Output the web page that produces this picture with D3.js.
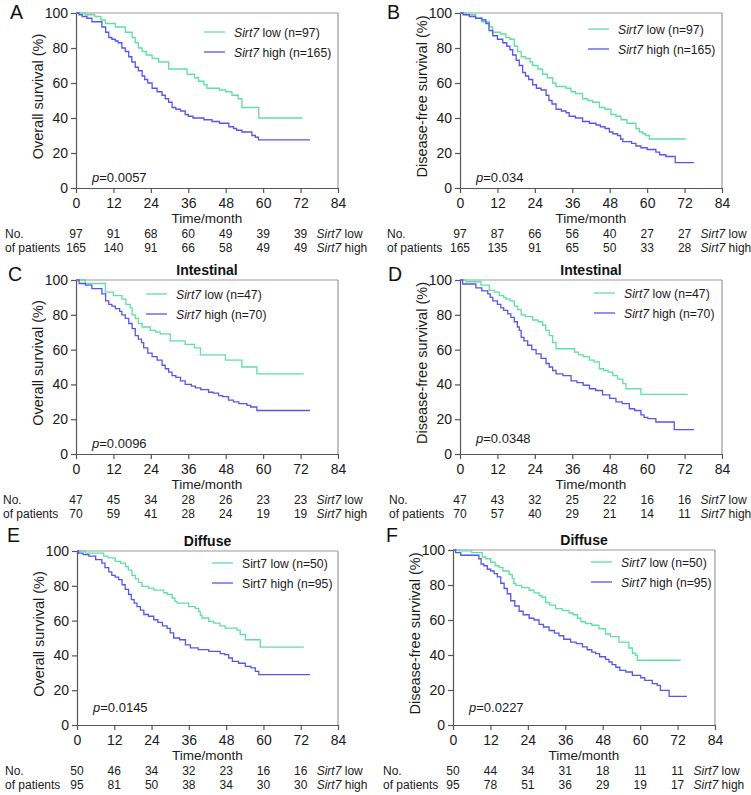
<!DOCTYPE html>
<html>
<head>
<meta charset="utf-8">
<script src="https://cdn.jsdelivr.net/npm/d3@7"></script>
<style>
  html, body { margin: 0; padding: 0; background: #fff; }
  svg { display: block; font-family: "Liberation Sans", Arial, sans-serif; }
</style>
</head>
<body>
<svg id="chart" width="751" height="795"></svg>
<script>
// ---------------- DATA ----------------
const xTicks = [0, 12, 24, 36, 48, 60, 72, 84];
const yTicks = [0, 20, 40, 60, 80, 100];
const riskTimes = [0, 12, 24, 36, 48, 60, 72];

// step points: [month, survival % after the drop]
const A_low = [[0,100],[3,99],[6,98],[8,96],[9.4,94],[12.6,92],[15.8,89],[18,86],[19,83],[20,80],[21.2,78],[22.5,76],[24.4,74],[26.5,72],[29.7,68],[35.6,65],[38,63],[39.3,61],[41,59],[42,57],[46,56],[48,55],[50,53],[52,51],[53.2,46],[58.6,40]];
const A_high = [[0,100],[1,99],[2,98],[3.5,97],[5.1,95],[8.3,92],[9.5,89],[10.5,86],[11.5,85],[12.6,84],[13.5,83],[14.7,80],[15.8,78],[16.9,75],[17.9,72],[19,69],[20,67],[21.2,64],[22,62],[23,60],[24.4,57],[26,55],[27.6,53],[28.6,51],[29.7,49],[30.8,46],[32,45],[33.5,44],[35,42],[36,41],[37.5,40],[41,39],[43.6,38],[46,37],[49,35],[50.5,34],[51.5,33],[53.2,32],[56.4,30],[57.5,29],[58.5,27.5]];
const B_low = [[0,100],[2,99],[5,97],[7,95],[9.4,92],[10.5,89],[13,88],[14.7,86],[16,85],[17.4,81],[18.5,78],[19.6,75],[21,74],[22.5,72],[23.3,70],[25,68],[26.5,65],[28,63],[29.7,60],[30.8,58],[34,57],[35.6,55],[37,54],[39.3,51],[41,50],[42.5,49],[44.7,46],[46.5,45],[48.4,42],[50,41],[51.6,39],[53.5,37],[56.4,34],[57.5,32],[58.6,31],[59.5,30],[60.7,28]];
const B_high = [[0,100],[1,99],[3,98],[5,97],[7,96],[8.3,94],[9.3,90],[10.5,87],[12,85],[13.7,83],[15,81],[16,79],[16.9,76],[18,73],[19,70],[20.1,66],[21,64],[22,62],[23.3,59],[24.5,57],[26,56],[27.6,53],[28.5,50],[29.5,48],[30.8,45],[32.5,44],[34,43],[35,41],[37,40],[39.3,38],[41.5,37],[43.6,36],[45,35],[46.5,34],[47.9,32],[49,31],[50.5,30],[51.5,28],[52.2,26.5],[55,25.5],[56.4,24],[58,23],[60,22],[62.8,20.5],[64,19],[66,18],[69,14.5]];
const C_low = [[0,100],[3,98],[9.4,93],[12,91],[14.7,89],[16,86],[17.4,84],[18,80],[19,78],[20,75],[21.2,73],[23.8,71],[25.5,70],[27,69],[30.2,65],[35,63],[38,61],[39.9,57],[47.9,54],[53.2,50],[58,46]];
const C_high = [[0,100],[1,98],[3,97],[5.1,95],[8.3,92],[9.5,88],[10.5,86],[11.5,85],[12.6,83.5],[14,82],[14.7,80],[15.8,78],[16.9,75],[18,72],[19,68],[20,66],[21,64],[21.7,61],[23,58],[24.4,56],[26,54],[27.6,51],[28.6,49],[29.7,47],[30.8,45],[32,44],[33.5,42],[35,40],[37,39],[38.3,38],[40,37],[42.5,35.5],[44,35],[45.7,33.5],[47,33],[48.9,31],[50.5,30],[52.2,29],[54.8,28],[56,27],[58,25]];
const D_low = [[0,100],[1.9,99],[6.7,97],[9.4,94],[11,93],[12.6,91],[14,90],[14.7,89],[16,88],[17.4,85],[18.5,83],[19.6,80],[21,79],[23.3,77],[25,76],[26.5,74],[27.5,71],[28.6,68],[29.7,64],[30.8,60.5],[36.7,58.6],[38,57],[39.5,56],[41.5,54],[43,53],[44.7,49],[46,48],[47.5,47],[49,45],[50.5,43],[52.2,40.4],[53.2,37.5],[58,34.3]];
const D_high = [[0,100],[0.85,97.7],[5.1,95.5],[7,93.7],[8.9,92],[9.7,90],[10.5,88],[12,86],[13.1,84],[14,82.6],[15.3,80.5],[16.3,78.5],[17.4,76],[18.4,73],[19,71],[19.6,67],[20.5,65],[21.7,62.5],[23,60],[24.4,57.5],[26,55],[27.6,52],[28.6,50],[29.7,48],[30.8,46],[33,45],[35.6,42],[37.5,41],[39.5,39.5],[41.5,37.5],[43.5,36.5],[45.7,34],[48,32],[50,30],[52,29],[54.3,26],[56,25],[58,22.5],[59,21],[60.2,20.3],[62.8,18.4],[68.7,14]];
const E_low = [[0,100],[2.7,98.8],[8.6,97],[10,96],[12.3,94],[14,93],[15.6,91],[16.5,89],[17.7,86],[18.8,84],[19.8,82],[20.9,79.7],[23,78.7],[24.7,77.5],[27.9,76],[29,75],[30.6,73],[31.5,71],[32.2,70],[35.9,68],[38,67],[39.2,65],[39.7,63],[40.2,61.5],[42.4,59.6],[44,58.5],[46,57],[47.7,55.7],[51.5,54.5],[52.5,52],[54.2,49],[59,44.8]];
const E_high = [[0,100],[0.5,98.8],[2,97.9],[3.8,97],[6,95],[8,93],[9,90.5],[10.2,88],[11.2,86],[12.3,85],[13.4,83.5],[14.5,80.6],[15.5,78],[16.6,75],[17.5,72],[18.4,70],[19.3,68],[20.4,66],[21.5,63.5],[23,62.5],[24.7,60.5],[26,59],[27.5,57],[29,55.5],[30,53],[31.1,50],[33,49],[34.9,46],[36.5,44.3],[39,43.3],[42.4,42.3],[46.1,41],[47.5,40.4],[48.8,38.5],[50,36.6],[52,35.5],[54.2,33.7],[56,32.8],[57.4,30.8],[58.5,29]];
const F_low = [[0,100],[1.9,99.5],[6,98.5],[9.4,96],[10.5,95],[12.1,93],[13.5,91],[14.7,90],[16,88],[18,86],[19,83.6],[19.5,81],[20.1,79.8],[22,78.5],[24.4,77],[26,75.5],[27.6,74],[28.5,73],[29.7,70],[31,68.5],[32.9,66.5],[35,65.5],[37.2,64],[38.5,63],[39.9,61],[41,59],[42.5,58],[44.5,57],[46.8,55],[48.9,52],[50.5,50.5],[53.2,47.4],[56.4,44],[57.5,41],[58.6,39.8],[59.1,37]];
const F_high = [[0,100],[0.85,98.5],[2.5,97],[8.3,95],[9,92],[9.9,91],[11,89],[12.1,88],[13.2,86.5],[14.2,84.6],[15.3,81],[16.4,78],[17.4,75],[18.5,71],[19.8,68],[21.2,65],[22.5,63],[24.4,61],[26,60],[27.6,57.5],[29,56],[30.8,54],[32.5,52.5],[34,51],[35.5,49],[37.7,47.4],[39.5,46.5],[41.5,44.6],[43,43],[44.5,41.7],[45.7,40.8],[47,39],[48.9,37.5],[50,36],[51,34.5],[52.2,33],[53.5,31.2],[55.4,30.3],[57.5,28.4],[60.2,27],[61.5,25.5],[63.9,23.6],[65.5,22.7],[66.5,19.8],[69.3,16.4]];

// last follow-up month of each curve [low, high]
const A_end = [72.5, 75];
const B_end = [72.5, 75];
const C_end = [73, 75];
const D_end = [73, 75];
const E_end = [73, 75];
const F_end = [73, 75];

// numbers at risk
const A_riskLow = [97, 91, 68, 60, 49, 39, 39];
const A_riskHigh = [165, 140, 91, 66, 58, 49, 49];
const B_riskLow = [97, 87, 66, 56, 40, 27, 27];
const B_riskHigh = [165, 135, 91, 65, 50, 33, 28];
const C_riskLow = [47, 45, 34, 28, 26, 23, 23];
const C_riskHigh = [70, 59, 41, 28, 24, 19, 19];
const D_riskLow = [47, 43, 32, 25, 22, 16, 16];
const D_riskHigh = [70, 57, 40, 29, 21, 14, 11];
const E_riskLow = [50, 46, 34, 32, 23, 16, 16];
const E_riskHigh = [95, 81, 50, 38, 34, 30, 30];
const F_riskLow = [50, 44, 34, 31, 18, 11, 11];
const F_riskHigh = [95, 78, 51, 36, 29, 19, 17];

const panelLetters = ["A", "B", "C", "D", "E", "F"];
const panelTitles = ["", "", "Intestinal", "Intestinal", "Diffuse", "Diffuse"];
const yLabels = ["Overall survival (%)", "Disease-free survival (%)", "Overall survival (%)", "Disease-free survival (%)", "Overall survival (%)", "Disease-free survival (%)"];
const pValues = ["0.0057", "0.034", "0.0096", "0.0348", "0.0145", "0.0227"];
const nLow = [97, 97, 47, 47, 50, 50];
const nHigh = [165, 165, 70, 70, 95, 95];
const legendItalic = [true, true, true, true, false, true];

// ---------------- LAYOUT ----------------
const COL_LOW = "#5fe0a4";
const COL_HIGH = "#5656ee";
const layout = [
  {x0: 76,  x1: 338, yT: 13,  yB: 188, lx: 128, ly: 19, py: 6,  lab: 5,   letter: [10, 19]},
  {x0: 460, x1: 722, yT: 13,  yB: 188, lx: 128, ly: 16, py: 6,  lab: 387, letter: [387, 19]},
  {x0: 76,  x1: 338, yT: 280, yB: 454, lx: 70,  ly: 14, py: 6,  lab: 3,   letter: [8, 281]},
  {x0: 460, x1: 722, yT: 280, yB: 454, lx: 134, ly: 13, py: 11, lab: 389, letter: [388, 281]},
  {x0: 77,  x1: 338, yT: 551, yB: 725, lx: 135, ly: 12, py: 13, lab: 5,   letter: [7, 542]},
  {x0: 453, x1: 715, yT: 550, yB: 725, lx: 138, ly: 12, py: 13, lab: 383, letter: [386, 542]}
];
const lows = [A_low, B_low, C_low, D_low, E_low, F_low];
const highs = [A_high, B_high, C_high, D_high, E_high, F_high];
const ends = [A_end, B_end, C_end, D_end, E_end, F_end];
const riskLows = [A_riskLow, B_riskLow, C_riskLow, D_riskLow, E_riskLow, F_riskLow];
const riskHighs = [A_riskHigh, B_riskHigh, C_riskHigh, D_riskHigh, E_riskHigh, F_riskHigh];

const svg = d3.select("#chart");

function addSirt(sel, italic, rest) {
  sel.append("tspan").attr("font-style", italic ? "italic" : "normal").text("Sirt7");
  sel.append("tspan").text(rest);
}

layout.forEach((L, i) => {
  const g = svg.append("g");
  const x = d3.scaleLinear().domain([0, 84]).range([L.x0, L.x1]);
  const y = d3.scaleLinear().domain([0, 100]).range([L.yB, L.yT]);

  // frame top/right
  g.append("line").attr("x1", L.x0).attr("x2", L.x1).attr("y1", L.yT).attr("y2", L.yT)
    .attr("stroke", "#9a9a9a").attr("stroke-width", 1.2);
  g.append("line").attr("x1", L.x1).attr("x2", L.x1).attr("y1", L.yT).attr("y2", L.yB)
    .attr("stroke", "#9a9a9a").attr("stroke-width", 1.2);

  const ax = g.append("g").attr("transform", `translate(0,${L.yB})`)
    .call(d3.axisBottom(x).tickValues(xTicks).tickSize(5).tickSizeOuter(0).tickPadding(5));
  const ay = g.append("g").attr("transform", `translate(${L.x0},0)`)
    .call(d3.axisLeft(y).tickValues(yTicks).tickSize(5).tickSizeOuter(0).tickPadding(3));
  [ax, ay].forEach(a => {
    a.selectAll("path, line").attr("stroke", "#555").attr("stroke-width", 1.2);
    a.selectAll("text").attr("font-size", 14).attr("fill", "#1a1a1a")
      .attr("font-family", "'Liberation Sans', Arial, sans-serif");
  });

  // curves
  const line = d3.line().x(d => x(d[0])).y(d => y(d[1])).curve(d3.curveStepAfter);
  [[lows[i], ends[i][0], COL_LOW], [highs[i], ends[i][1], COL_HIGH]].forEach(([pts, end, col]) => {
    const full = pts.concat([[end, pts[pts.length - 1][1]]]);
    g.append("path").attr("d", line(full)).attr("fill", "none")
      .attr("stroke", col).attr("stroke-width", 1.3);
  });

  // legend
  const lgx = L.x0 + L.lx;
  [[COL_LOW, " low (n=" + nLow[i] + ")"], [COL_HIGH, " high (n=" + nHigh[i] + ")"]].forEach(([col, rest], k) => {
    const ly = L.yT + L.ly + k * 20;
    g.append("line").attr("x1", lgx).attr("x2", lgx + 21).attr("y1", ly).attr("y2", ly)
      .attr("stroke", col).attr("stroke-width", 1.3);
    const t = g.append("text").attr("x", lgx + 30).attr("y", ly + 4.5).attr("font-size", 12.2).attr("fill", "#1a1a1a");
    addSirt(t, legendItalic[i], rest);
  });

  // p value
  const pt = g.append("text").attr("x", L.x0 + 16).attr("y", L.yB - L.py).attr("font-size", 13).attr("fill", "#1a1a1a");
  pt.append("tspan").attr("font-style", "italic").text("p");
  pt.append("tspan").text("=" + pValues[i]);

  // axis titles
  g.append("text").attr("x", (L.x0 + L.x1) / 2).attr("y", L.yB + 35).attr("text-anchor", "middle")
    .attr("font-size", 13.5).attr("fill", "#1a1a1a").text("Time/month");
  g.append("text").attr("transform", `translate(${L.x0 - 33},${(L.yT + L.yB) / 2 - 4}) rotate(-90)`)
    .attr("text-anchor", "middle").attr("font-size", 14.5).attr("fill", "#1a1a1a").text(yLabels[i]);

  // panel title
  if (panelTitles[i]) {
    g.append("text").attr("x", (L.x0 + L.x1) / 2).attr("y", L.yT - 5).attr("text-anchor", "middle")
      .attr("font-size", 14).attr("font-weight", "bold").attr("fill", "#111").text(panelTitles[i]);
  }
  // panel letter
  g.append("text").attr("x", L.letter[0]).attr("y", L.letter[1]).attr("font-size", 19.5)
    .attr("fill", "#111").text(panelLetters[i]);

  // risk table
  const r1 = L.yB + 50, r2 = L.yB + 64;
  g.append("text").attr("x", L.lab).attr("y", r1).attr("font-size", 12).attr("fill", "#1a1a1a").text("No.");
  g.append("text").attr("x", L.lab).attr("y", r2).attr("font-size", 12).attr("fill", "#1a1a1a").text("of patients");
  riskTimes.forEach((t, k) => {
    g.append("text").attr("x", x(t)).attr("y", r1).attr("text-anchor", "middle").attr("font-size", 12)
      .attr("fill", "#1a1a1a").text(riskLows[i][k]);
    g.append("text").attr("x", x(t)).attr("y", r2).attr("text-anchor", "middle").attr("font-size", 12)
      .attr("fill", "#1a1a1a").text(riskHighs[i][k]);
  });
  const tx = x(72) + 16;
  const t1 = g.append("text").attr("x", tx).attr("y", r1).attr("font-size", 12).attr("fill", "#1a1a1a");
  addSirt(t1, true, " low");
  const t2 = g.append("text").attr("x", tx).attr("y", r2).attr("font-size", 12).attr("fill", "#1a1a1a");
  addSirt(t2, true, " high");
});
</script>
</body>
</html>
